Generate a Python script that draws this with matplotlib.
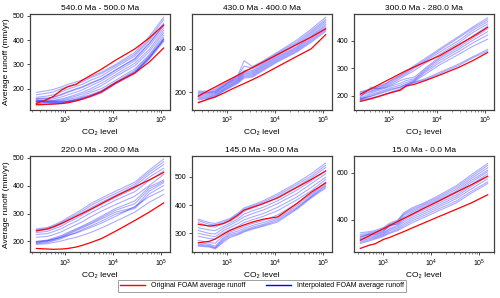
import matplotlib
matplotlib.use('Agg')
import matplotlib.pyplot as plt
from matplotlib.lines import Line2D

plt.rcParams['font.family'] = ['Liberation Sans', 'DejaVu Sans']
plt.rcParams['mathtext.fontset'] = 'custom'
plt.rcParams['mathtext.rm'] = 'Liberation Sans'
plt.rcParams['mathtext.it'] = 'Liberation Sans:italic'
plt.rcParams['mathtext.bf'] = 'Liberation Sans:bold'

# CO2 levels of the runs
co2 = [250, 420, 560, 840, 1120, 1680, 2240, 3360, 5600, 11200, 28000, 56000, 112000]
co2_recent = [330, 500, 660, 1000, 1320, 2000, 2640, 4000, 6600, 13200, 33000, 66000, 150000]

titles = ['540.0 Ma - 500.0 Ma', '430.0 Ma - 400.0 Ma', '300.0 Ma - 280.0 Ma',
          '220.0 Ma - 200.0 Ma', '145.0 Ma - 90.0 Ma', '15.0 Ma - 0.0 Ma']

# 540 - 500 Ma
p1_orig = [
    [140, 156, 168, 195, 208, 218, 235, 255, 280, 318, 364, 409, 463],
    [136, 136, 137, 139, 142, 150, 157, 170, 188, 225, 265, 310, 368],
]
p1_interp = [
    [185, 192, 197, 208, 218, 228, 235, 250, 268, 300, 350, 415, 495],
    [175, 182, 187, 200, 210, 220, 228, 245, 262, 295, 342, 405, 485],
    [165, 170, 175, 188, 198, 210, 218, 235, 252, 288, 335, 398, 470],
    [160, 162, 166, 178, 188, 200, 208, 224, 242, 278, 325, 388, 462],
    [158, 160, 164, 175, 185, 197, 205, 221, 240, 276, 322, 385, 460],
    [150, 155, 158, 166, 175, 186, 195, 212, 232, 268, 315, 375, 450],
    [150, 150, 152, 158, 165, 176, 185, 200, 222, 258, 305, 362, 440],
    [145, 148, 150, 154, 160, 170, 178, 192, 212, 250, 295, 352, 430],
    [140, 145, 147, 150, 155, 163, 170, 185, 200, 235, 282, 340, 420],
    [155, 150, 148, 148, 150, 158, 165, 176, 192, 228, 275, 335, 410],
    [150, 145, 144, 145, 148, 155, 162, 172, 188, 224, 270, 330, 405],
    [148, 144, 143, 144, 147, 154, 160, 170, 186, 223, 268, 328, 403],
    [135, 138, 140, 142, 146, 152, 158, 168, 185, 222, 265, 325, 400],
    [130, 135, 137, 140, 144, 150, 156, 166, 182, 220, 262, 322, 395],
]

# 430 - 400 Ma
p2_orig = [
    [182, 210, 224, 245, 259, 279, 294, 314, 339, 374, 420, 454, 492],
    [152, 170, 178, 196, 210, 228, 240, 258, 282, 318, 365, 400, 465],
]
p2_interp = [
    [205, 205, 215, 240, 255, 280, 345, 318, 345, 385, 440, 490, 545],
    [200, 200, 210, 235, 250, 275, 320, 312, 340, 380, 432, 482, 535],
    [195, 198, 205, 230, 248, 270, 300, 308, 335, 375, 425, 475, 528],
    [190, 195, 202, 228, 245, 266, 295, 300, 330, 370, 418, 468, 520],
    [185, 190, 198, 225, 240, 262, 290, 295, 325, 365, 410, 460, 512],
    [180, 185, 195, 220, 236, 258, 285, 290, 320, 360, 405, 455, 505],
    [175, 180, 190, 215, 232, 254, 280, 285, 315, 355, 400, 448, 498],
    [170, 176, 186, 212, 228, 250, 275, 280, 310, 350, 395, 442, 492],
    [165, 172, 182, 208, 224, 246, 270, 275, 305, 345, 390, 436, 486],
    [155, 168, 178, 205, 220, 242, 265, 270, 300, 340, 385, 430, 480],
]

# 300 - 280 Ma
p3_orig = [
    [206, 226, 237, 253, 264, 280, 291, 305, 322, 345, 385, 415, 448],
    [180, 190, 196, 206, 212, 220, 235, 242, 255, 275, 303, 328, 357],
]
p3_interp = [
    [215, 225, 232, 245, 258, 275, 288, 310, 335, 370, 415, 450, 482],
    [212, 222, 230, 242, 255, 272, 285, 305, 330, 365, 410, 445, 475],
    [205, 218, 226, 238, 250, 268, 280, 300, 325, 358, 400, 438, 468],
    [200, 215, 222, 234, 245, 262, 275, 292, 318, 350, 392, 430, 460],
    [195, 232, 225, 230, 240, 255, 262, 268, 300, 340, 382, 418, 452],
    [192, 210, 218, 228, 236, 245, 255, 262, 295, 335, 375, 410, 442],
    [188, 205, 212, 222, 230, 238, 248, 258, 290, 328, 368, 402, 432],
    [185, 200, 208, 218, 225, 232, 242, 255, 285, 320, 360, 392, 420],
    [190, 198, 205, 214, 222, 230, 240, 252, 278, 312, 350, 380, 405],
    [185, 192, 198, 206, 215, 224, 238, 250, 262, 285, 315, 342, 368],
    [180, 188, 195, 204, 212, 222, 236, 248, 258, 280, 310, 338, 362],
]

# 220 - 200 Ma
p4_orig = [
    [238, 245, 252, 265, 275, 290, 300, 315, 335, 362, 395, 420, 447],
    [175, 173, 172, 173, 175, 180, 186, 196, 210, 237, 275, 305, 338],
]
p4_interp = [
    [245, 250, 258, 272, 285, 302, 315, 335, 355, 380, 412, 455, 495],
    [242, 246, 254, 268, 280, 296, 308, 328, 348, 372, 405, 448, 485],
    [238, 242, 250, 262, 275, 290, 302, 320, 340, 365, 398, 440, 475],
    [232, 236, 244, 255, 268, 282, 295, 312, 332, 358, 390, 430, 462],
    [225, 228, 235, 246, 258, 272, 285, 302, 322, 348, 378, 418, 452],
    [215, 218, 224, 235, 246, 260, 270, 288, 308, 332, 362, 400, 440],
    [200, 205, 212, 222, 232, 245, 255, 270, 290, 318, 345, 395, 420],
    [197, 202, 208, 218, 228, 242, 252, 265, 285, 312, 335, 388, 415],
    [195, 200, 205, 215, 225, 238, 248, 262, 280, 305, 322, 380, 410],
    [192, 196, 202, 210, 220, 232, 242, 255, 272, 298, 318, 370, 400],
    [200, 203, 208, 215, 222, 230, 238, 250, 265, 290, 325, 360, 385],
    [190, 192, 196, 202, 208, 215, 222, 232, 248, 272, 305, 340, 368],
]

# 145 - 90 Ma
p5_orig = [
    [332, 326, 328, 335, 345, 365, 382, 392, 405, 425, 462, 490, 520],
    [267, 272, 280, 298, 310, 322, 330, 340, 350, 358, 405, 445, 478],
]
p5_interp = [
    [350, 338, 335, 345, 352, 372, 390, 400, 415, 440, 478, 510, 548],
    [345, 332, 330, 340, 348, 368, 385, 396, 410, 434, 472, 502, 540],
    [338, 325, 322, 335, 342, 360, 378, 390, 404, 428, 465, 495, 532],
    [320, 312, 310, 325, 335, 352, 368, 380, 392, 415, 452, 485, 520],
    [310, 300, 298, 318, 328, 345, 358, 370, 382, 405, 440, 475, 510],
    [300, 292, 288, 310, 320, 335, 348, 358, 370, 392, 428, 462, 498],
    [290, 282, 280, 302, 312, 325, 338, 348, 360, 380, 418, 450, 490],
    [275, 268, 265, 292, 305, 315, 325, 335, 345, 365, 405, 440, 480],
    [268, 262, 255, 285, 300, 308, 318, 328, 338, 355, 398, 435, 475],
    [262, 258, 250, 280, 295, 302, 312, 322, 332, 350, 392, 430, 470],
    [258, 255, 248, 275, 290, 298, 308, 318, 328, 345, 388, 428, 465],
    [255, 252, 245, 270, 285, 295, 305, 315, 325, 340, 385, 425, 460],
]

# 15 - 0 Ma
p6_orig = [
    [314, 332, 345, 363, 375, 394, 406, 424, 447, 477, 518, 548, 586],
    [279, 292, 298, 317, 325, 340, 350, 366, 385, 411, 445, 471, 507],
]
p6_interp = [
    [345, 350, 355, 368, 385, 400, 430, 452, 470, 500, 545, 590, 640],
    [338, 345, 350, 362, 380, 395, 425, 446, 465, 494, 538, 582, 632],
    [332, 340, 346, 358, 375, 390, 420, 440, 460, 488, 530, 574, 622],
    [328, 336, 342, 354, 370, 386, 412, 434, 454, 482, 522, 566, 612],
    [325, 340, 338, 350, 378, 382, 405, 428, 448, 476, 515, 558, 605],
    [320, 330, 335, 346, 362, 378, 398, 420, 440, 468, 506, 548, 596],
    [315, 325, 330, 342, 358, 372, 390, 412, 432, 460, 498, 540, 586],
    [310, 320, 326, 338, 352, 366, 382, 404, 424, 452, 490, 530, 575],
    [305, 315, 322, 334, 346, 360, 375, 396, 416, 444, 480, 520, 562],
    [300, 310, 318, 330, 342, 355, 368, 388, 408, 436, 472, 512, 555],
]

panels = [
    (co2, p1_orig, p1_interp, (114, 508), [200, 300, 400, 500]),
    (co2, p2_orig, p2_interp, (120, 560), [200, 400]),
    (co2, p3_orig, p3_interp, (150, 496), [200, 300, 400]),
    (co2, p4_orig, p4_interp, (162, 504), [200, 300, 400, 500]),
    (co2, p5_orig, p5_interp, (234, 571), [300, 400, 500]),
    (co2_recent, p6_orig, p6_interp, (263, 670), [400, 600]),
]

fig, axes = plt.subplots(2, 3, figsize=(5.0, 2.98), dpi=100)
fig.subplots_adjust(left=0.06, right=0.988, top=0.953, bottom=0.154, wspace=0.157, hspace=0.49)

for i, (ax, (x, orig, interp, ylim, yticks)) in enumerate(zip(axes.flat, panels)):
    for line in interp:
        ax.plot(x, line, color='#0000ff', alpha=0.33, lw=0.8)
    for line in orig:
        ax.plot(x, line, color='#ff0000', lw=0.9)
    ax.set_xscale('log')
    ax.set_ylim(*ylim)
    ax.set_yticks(yticks)
    ax.set_title(titles[i], fontsize=6, pad=3)
    ax.set_xlabel('CO₂ level', fontsize=6, labelpad=2)
    if i % 3 == 0:
        ax.set_ylabel('Average runoff (mm/yr)', fontsize=6, labelpad=2)
    ax.tick_params(which='major', labelsize=5, length=2.5, width=0.6, pad=1.5, color='#333333')
    ax.tick_params(which='minor', length=1.3, width=0.4, color='#333333')
    ax.tick_params(axis='y', which='minor', left=False)
    for s in ax.spines.values():
        s.set_color('#404040')
        s.set_linewidth(0.9)

handles = [Line2D([], [], color='#ff0000', lw=1.0),
           Line2D([], [], color='#0000ff', lw=1.0)]
leg = fig.legend(handles, ['Original FOAM average runoff', 'Interpolated FOAM average runoff'],
                 loc='lower center', bbox_to_anchor=(0.524, 0.01), ncol=2, fontsize=5,
                 fancybox=False, handlelength=3.6, columnspacing=3.0, borderpad=0.35,
                 handletextpad=0.8)
leg.get_frame().set_edgecolor('#888888')
leg.get_frame().set_linewidth(0.7)

fig.savefig('out.png', dpi=100)
